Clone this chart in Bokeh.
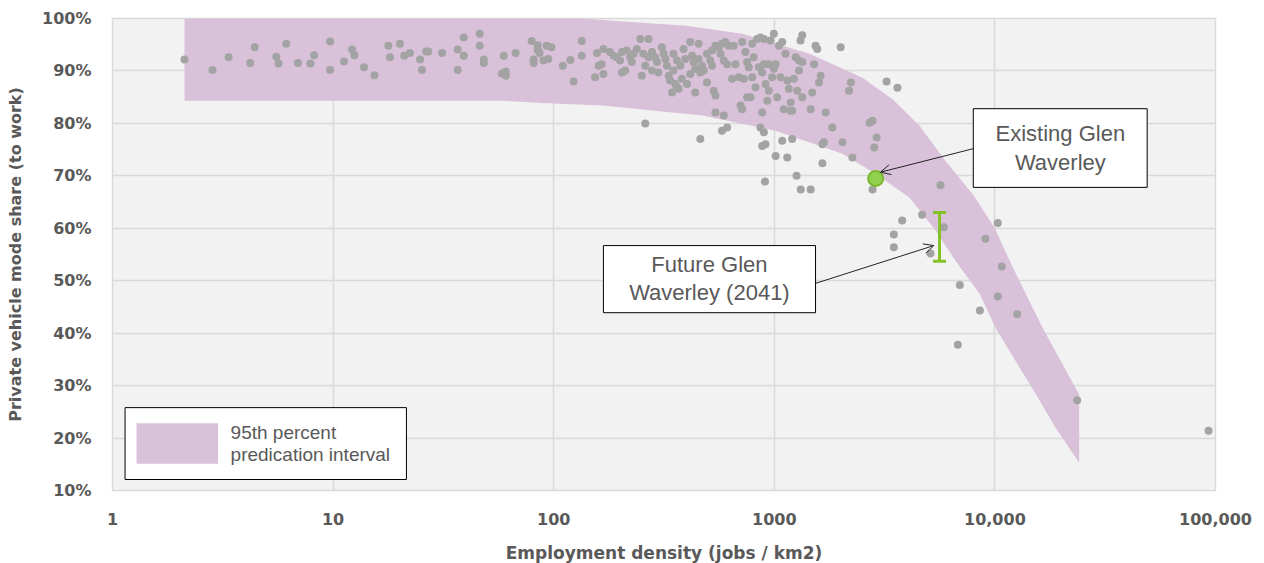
from bokeh.plotting import figure
from bokeh.models import (FixedTicker, BoxAnnotation, Label, Arrow, OpenHead)
from bokeh.embed import file_html
from bokeh.resources import INLINE

# ---------------- data ----------------
density = [
    2.12, 2.84, 3.36, 4.21, 4.41, 5.53, 5.66, 6.13, 6.93, 7.89,
    8.2, 9.69, 9.69, 11.2, 12.2, 12.5, 13.8, 15.4, 17.8, 18.1,
    20.1, 21.0, 22.3, 24.8, 25.3, 26.4, 27.0, 31.2, 36.7, 36.7,
    39.1, 39.1, 46.2, 46.2, 48.2, 48.2, 58.2, 59.4, 60.7, 60.7,
    67.2, 79.4, 81.1, 81.1, 84.6, 84.6, 86.3,
    92.9, 97.7, 89.8, 94.4, 110, 119, 123, 134, 134, 157,
    154, 160, 165, 168, 168, 180, 187, 193, 200, 204,
    204, 211, 214, 222, 226, 230, 238, 247, 251, 255,
    260, 269, 269, 279, 279, 288, 294, 298, 309, 315,
    321, 326, 332, 337, 344, 349, 349, 356, 362, 362,
    368, 375, 381, 388, 395, 402, 416, 416, 424, 431,
    438, 438, 454, 454, 462, 470, 479, 495, 495, 513,
    522, 522, 531, 541, 541, 560, 570, 579, 590, 600,
    611, 621, 644, 655, 667, 690, 703, 715, 715, 728,
    740, 753, 753, 766, 780, 794, 794, 807, 822, 836,
    851, 865, 881, 881, 897, 897, 912, 929, 944, 944,
    961, 977, 995, 995, 1014, 1030, 1049, 1067, 1086, 1104,
    1124, 1145, 1164, 1186, 1186, 1205, 1227, 1250, 1270, 1294,
    1315, 1339, 1339, 1294, 1339, 1462, 1486, 1514, 1538, 1566,
    1595, 1622, 1710, 1833, 2000, 2037, 2182, 2223, 2259, 1652,
    1678, 1205, 1086, 1145, 1014, 897, 865, 881, 912, 611,
    590, 579, 541, 462, 260,
    1652, 907, 1262, 1318, 1462, 2788, 2909, 2838, 2703, 2788,
    3228, 3616,
    5666, 3800, 4680, 5866, 3482, 3482, 5105, 9064, 10310, 10740,
    6935, 10310, 8550, 12620, 6790, 23600, 93000,
]
share = [
    92.2, 90.2, 92.6, 91.5, 94.5, 92.7, 91.4, 95.2, 91.5, 91.4,
    93.0, 95.6, 90.2, 91.8, 94.1, 93.0, 90.7, 89.2, 94.8, 92.6,
    95.2, 92.9, 93.4, 92.2, 90.2, 93.7, 93.7, 93.4, 94.1, 90.2,
    96.4, 92.9, 97.1, 94.8, 92.2, 91.5, 89.5, 92.9, 89.9, 89.1,
    93.4, 95.7, 92.2, 91.5, 94.9, 94.0, 93.4,
    94.8, 94.5, 92.0, 92.3, 91.0, 92.1, 88.0, 95.7, 92.9, 93.4,
    88.8, 91.0, 91.3, 89.4, 94.2, 93.6, 92.9, 92.6, 92.0, 93.6,
    89.7, 90.1, 93.9, 92.6, 91.7, 93.3, 94.2, 96.1, 89.1, 93.3,
    91.0, 96.1, 92.6, 93.6, 90.1, 92.6, 91.7, 89.7, 94.5, 93.3,
    92.3, 91.0, 89.1, 88.2, 85.9, 93.3, 90.1, 87.5, 92.0, 86.9,
    86.6, 91.0, 88.5, 94.2, 92.3, 87.5, 89.4, 95.5, 92.9, 91.7,
    90.4, 85.9, 95.2, 92.3, 89.7, 91.0, 90.1, 93.3, 87.8, 92.0,
    93.9, 91.0, 86.2, 85.3, 94.8, 94.5, 93.3, 95.2, 92.0, 95.5,
    91.3, 94.8, 88.5, 94.8, 91.3, 88.8, 83.4, 95.5, 82.7, 88.5,
    93.6, 91.7, 85.0, 90.7, 85.0, 95.2, 88.8, 92.6, 86.9, 96.1,
    90.7, 96.4, 89.7, 82.1, 96.1, 91.3, 87.5, 84.3, 91.3, 86.2,
    95.8, 88.8, 90.4, 97.1, 91.3, 85.0, 94.8, 88.8, 95.5, 82.7,
    93.3, 88.2, 86.6, 84.0, 82.4, 82.4, 88.5, 92.6, 86.2, 92.0,
    95.8, 96.8, 91.7, 90.1, 85.0, 82.7, 85.9, 91.3, 94.8, 94.2,
    87.8, 89.1, 82.1, 79.2, 94.5, 76.4, 86.2, 87.8, 73.5, 76.0,
    76.4, 77.0, 76.7, 73.5, 73.8, 78.3, 79.2, 75.7, 76.0, 79.2,
    81.5, 78.6, 82.1, 77.0, 80.0,
    72.4, 68.9, 70.0, 67.4, 67.4, 67.4, 77.3, 75.4, 80.1, 80.5,
    88.0, 86.8,
    68.2, 61.5, 62.6, 60.2, 58.8, 56.4, 55.2, 58.0, 61.0, 52.7,
    49.2, 47.0, 44.3, 43.6, 37.8, 27.2, 21.4,
]

# 95th percentile prediction interval (upper edge left->right, lower edge right->left)
band_upper_x = [2.12, 134, 178, 400, 716, 1443, 2512, 3436, 4563, 5986, 7943,
                10000, 11700, 13830, 16520, 19950, 24100]
band_upper_y = [100, 100, 99.6, 98.6, 97.1, 93.3, 88.7, 84.6, 79.5, 72.8, 66.5,
                60.0, 53.7, 47.4, 40.9, 34.6, 28.3]
band_lower_x = [24100, 18930, 15360, 12450, 10110, 8551, 6650, 5336, 4109, 2877,
                2037, 1011, 471, 165, 88, 60, 2.12]
band_lower_y = [15.3, 21.8, 28.3, 34.6, 40.9, 47.4, 53.7, 59.8, 65.8, 70.4,
                74.2, 78.6, 81.5, 83.4, 83.9, 84.3, 84.3]

existing_x = [2880]
existing_y = [69.5]
future_x = [5610]
future_low = [53.7]
future_high = [63.0]

x_ticks = [1, 10, 100, 1000, 10000, 100000]
x_tick_labels = ["1", "10", "100", "1000", "10,000", "100,000"]
y_ticks = [10, 20, 30, 40, 50, 60, 70, 80, 90, 100]
y_tick_labels = ["10%", "20%", "30%", "40%", "50%", "60%", "70%", "80%", "90%", "100%"]

# annotation placement (data coordinates)
existing_box = dict(left=7980, right=49000, bottom=67.8, top=82.8)
existing_text = ["Existing Glen", "Waverley"]
existing_text_x = 19800
existing_text_y = [78.1, 72.6]
existing_arrow = (8020, 75.2, 3030, 70.7)

future_box = dict(left=168, right=1538, bottom=43.9, top=56.7)
future_text = ["Future Glen", "Waverley (2041)"]
future_text_x = 508
future_text_y = [53.1, 47.8]
future_arrow = (1538, 49.5, 5285, 56.7)

legend_box = dict(left=1.14, right=21.5, bottom=12.1, top=25.8)
legend_swatch = dict(left=1.285, right=3.01, bottom=15.1, top=22.8)
legend_text = ["95th percent", "predication interval"]
legend_text_x = 3.43
legend_text_y = [21.1, 16.9]

GREY_TXT = "#595959"
BAND = "#d9c2d9"
LIME = "#84c225"

# ---------------- figure ----------------
p = figure(frame_width=1103, frame_height=472, x_axis_type="log",
           x_range=(1, 100000), y_range=(10, 100),
           output_backend="svg", toolbar_location=None,
           min_border_left=112, min_border_right=45,
           min_border_top=18, min_border_bottom=70)

p.background_fill_color = "#f2f2f2"
p.border_fill_color = "white"
p.outline_line_color = "#d9d9d9"
p.outline_line_width = 1.5

p.xaxis.ticker = FixedTicker(ticks=x_ticks)
p.yaxis.ticker = FixedTicker(ticks=y_ticks)
p.xaxis.major_label_overrides = {t: l for t, l in zip(x_ticks, x_tick_labels)}
p.yaxis.major_label_overrides = {t: l for t, l in zip(y_ticks, y_tick_labels)}
p.xgrid.ticker = FixedTicker(ticks=x_ticks)
p.ygrid.ticker = FixedTicker(ticks=y_ticks)
for g in (p.xgrid, p.ygrid):
    g.grid_line_color = "#d9d9d9"
    g.grid_line_width = 1.5

for ax in (p.xaxis, p.yaxis):
    ax.axis_line_color = None
    ax.major_tick_line_color = None
    ax.minor_tick_line_color = None
    ax.major_tick_out = 0
    ax.major_tick_in = 0
    ax.minor_tick_out = 0
    ax.minor_tick_in = 0
    ax.major_label_text_font = "DejaVu Sans"
    ax.major_label_text_font_style = "bold"
    ax.major_label_text_font_size = "16px"
    ax.major_label_text_color = GREY_TXT
    ax.axis_label_text_font = "DejaVu Sans"
    ax.axis_label_text_font_style = "bold"
    ax.axis_label_text_color = GREY_TXT

p.xaxis.axis_label = "Employment density (jobs / km2)"
p.yaxis.axis_label = "Private vehicle mode share (to work)"
p.xaxis.axis_label_text_font_size = "17px"
p.yaxis.axis_label_text_font_size = "16px"
p.xaxis.major_label_standoff = 22
p.yaxis.major_label_standoff = 21
p.xaxis.axis_label_standoff = 15
p.yaxis.axis_label_standoff = 14

# band
p.patch(band_upper_x + band_lower_x, band_upper_y + band_lower_y,
        fill_color=BAND, line_color=None)

# observations
p.scatter(density, share, size=8, fill_color="#a3a3a3", line_color=None)

# future error bar
p.segment(x0=future_x, y0=future_low, x1=future_x, y1=future_high,
          line_color=LIME, line_width=3)
p.scatter(future_x + future_x, future_low + future_high, marker="dash",
          size=13, line_color=LIME, line_width=3)

# existing point
p.scatter(existing_x, existing_y, size=15, fill_color="#92d050",
          line_color="#78b82a", line_width=2)

# annotation boxes
def add_box(spec):
    p.add_layout(BoxAnnotation(left=spec["left"], right=spec["right"],
                               bottom=spec["bottom"], top=spec["top"],
                               fill_color="white", fill_alpha=1.0,
                               line_color="black", line_width=1,
                               line_alpha=1.0))

add_box(existing_box)
for t, yv in zip(existing_text, existing_text_y):
    p.add_layout(Label(x=existing_text_x, y=yv, text=t, text_align="center",
                       text_baseline="middle", text_font="Liberation Sans",
                       text_font_size="22px", text_color=GREY_TXT))

add_box(future_box)
for t, yv in zip(future_text, future_text_y):
    p.add_layout(Label(x=future_text_x, y=yv, text=t, text_align="center",
                       text_baseline="middle", text_font="Liberation Sans",
                       text_font_size="22px", text_color=GREY_TXT))

for (xs, ys, xe, ye) in (existing_arrow, future_arrow):
    p.add_layout(Arrow(x_start=xs, y_start=ys, x_end=xe, y_end=ye,
                       line_color="#222222", line_width=1,
                       end=OpenHead(size=10, line_color="#222222", line_width=1)))

# legend
add_box(legend_box)
p.add_layout(BoxAnnotation(left=legend_swatch["left"], right=legend_swatch["right"],
                           bottom=legend_swatch["bottom"], top=legend_swatch["top"],
                           fill_color=BAND, fill_alpha=1.0, line_color=None))
for t, yv in zip(legend_text, legend_text_y):
    p.add_layout(Label(x=legend_text_x, y=yv, text=t, text_align="left",
                       text_baseline="middle", text_font="Liberation Sans",
                       text_font_size="19px", text_color=GREY_TXT))

open("out.html", "w").write(file_html(p, INLINE))
